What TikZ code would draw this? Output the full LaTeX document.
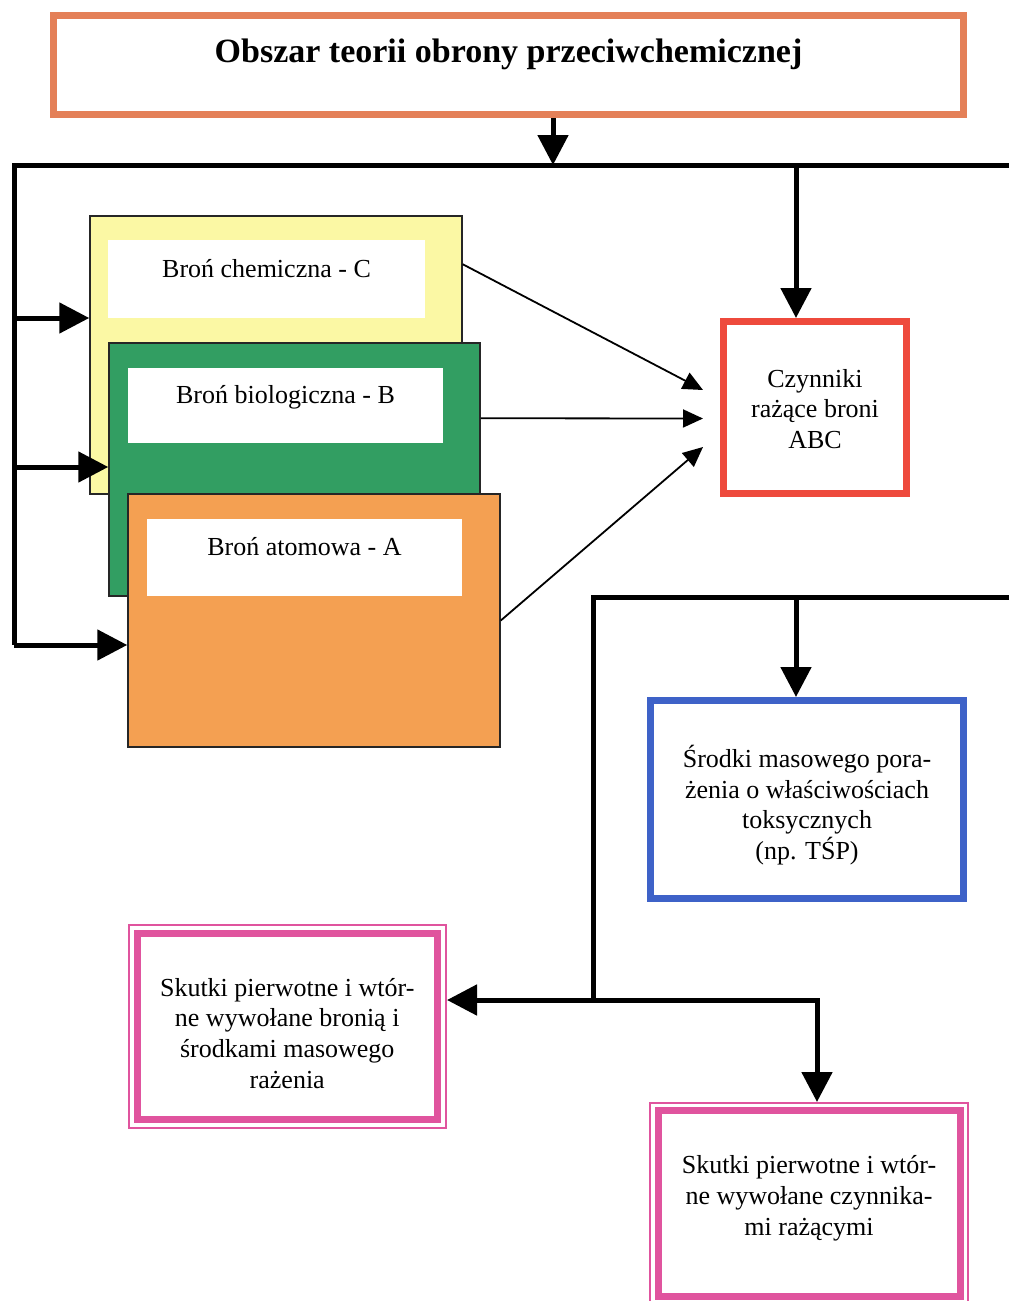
\documentclass[tikz,border=0pt]{standalone}
\usepackage{fontspec}
\setmainfont{Liberation Serif}
\usetikzlibrary{arrows.meta}

\definecolor{titleframe}{RGB}{228,128,88}
\definecolor{chemfill}{RGB}{251,248,164}
\definecolor{biofill}{RGB}{50,158,98}
\definecolor{atomfill}{RGB}{244,160,82}
\definecolor{redframe}{RGB}{238,74,60}
\definecolor{blueframe}{RGB}{62,98,200}
\definecolor{pinkframe}{RGB}{224,84,158}

\begin{document}
\begin{tikzpicture}[x=0.5pt,y=-0.5pt,
  txt/.style={font=\fontsize{13}{15.4}\selectfont, align=center},
  nametext/.style={font=\fontsize{13}{15.4}\selectfont, anchor=base},
  boxtext/.style={txt, anchor=center},
  framebox/.style={draw, rectangle, inner sep=0pt, txt},
  thinframe/.style={draw=pinkframe, line width=1pt, rectangle, inner sep=0pt},
  weapon/.style={draw=black!85, line width=0.75pt, rectangle, inner sep=0pt},
  namebox/.style={fill=white, rectangle, inner sep=0pt},
  bus/.style={line width=2.5pt},
  busarrow/.style={bus, -{Triangle[length=15pt,width=15pt]}},
  feed/.style={line width=0.9pt, -{Triangle[length=10pt,width=9pt]}},
]
\useasboundingbox (0,0) rectangle (1009,1301);

% title
\node[framebox, draw=titleframe, line width=3.5pt, minimum width=455pt, minimum height=49.5pt,
  label={[name=titletext, font=\fontsize{17}{20}\selectfont\bfseries, anchor=base, yshift=5.5pt]center:Obszar teorii obrony przeciwchemicznej}]
  (title) at (508.5,65) {};

% stacked weapon cards
\node[weapon, fill=chemfill, minimum width=186pt, minimum height=139pt] (chem) at (276,355) {};
\node[namebox, minimum width=158.5pt, minimum height=39pt,
  label={[name=chemtext, nametext, yshift=5pt]center:Broń chemiczna - C}] (chemname) at (266.5,279) {};

\node[weapon, fill=biofill, minimum width=185.5pt, minimum height=126.5pt] (bio) at (294.5,469.5) {};
\node[namebox, minimum width=157.5pt, minimum height=37.5pt,
  label={[name=biotext, nametext, yshift=4pt]center:Broń biologiczna - B}] (bioname) at (285.5,405.5) {};

\node[weapon, fill=atomfill, minimum width=186pt, minimum height=126.5pt] (atom) at (314,620.5) {};
\node[namebox, minimum width=157.5pt, minimum height=38.5pt,
  label={[name=atomtext, nametext, yshift=5.25pt]center:Broń atomowa - A}] (atomname) at (304.5,557.5) {};

% result boxes
\node[framebox, draw=redframe, line width=3.5pt, minimum width=91.5pt, minimum height=86pt,
  label={[name=czyntext, boxtext, yshift=-0.75pt]center:Czynniki\\rażące broni\\ABC}]
  (czyn) at (815,407.5) {};

\node[framebox, draw=blueframe, line width=3.5pt, minimum width=156.5pt, minimum height=99pt,
  label={[name=srodkitext, boxtext, yshift=-2.75pt]center:Środki masowego pora-\\żenia o właściwościach\\toksycznych\\(np. TŚP)}]
  (srodki) at (807,799.5) {};

\node[thinframe, minimum width=158.5pt, minimum height=101.3pt] (s1frame) at (287.5,1026.3) {};
\node[framebox, draw=pinkframe, line width=3.5pt, minimum width=150.25pt, minimum height=93.3pt,
  label={[name=s1text, boxtext, yshift=-3.5pt]center:Skutki pierwotne i wtór-\\ne wywołane bronią i\\środkami masowego\\rażenia}]
  (s1) at (287.25,1026.3) {};

\node[thinframe, minimum width=159pt, minimum height=100pt] (s2frame) at (808.7,1203) {};
\node[framebox, draw=pinkframe, line width=3.5pt, minimum width=151pt, minimum height=93pt,
  label={[name=s2text, boxtext, yshift=2.5pt]center:Skutki pierwotne i wtór-\\ne wywołane czynnika-\\mi rażącymi}]
  (s2) at (809,1203) {};

% upper distribution bus
\coordinate (drop) at (553,165);
\coordinate (busL) at (14,165);
\coordinate (busR) at (1009,165);
\coordinate (tapC) at (796,165);
\coordinate (tap1) at (14,318);
\coordinate (tap2) at (14,467);
\coordinate (tap3) at (14,645);

\draw[busarrow] (title.south -| drop) -- (drop);
\draw[bus] (busR) -- (busL) -- (tap3);
\draw[busarrow] (tap1) -- (tap1 -| chem.west);
\draw[busarrow] (tap2) -- (tap2 -| bio.west);
\draw[busarrow] (tap3) -- (tap3 -| atom.west);
\draw[busarrow] (tapC) -- (tapC |- czyn.north);

% weapons feeding the damaging factors
\draw[feed] ([yshift=-24.5pt]chem.north east) -- ([xshift=-8.5pt,yshift=8.75pt]czyn.west);
\draw[feed] ([yshift=-38pt]bio.north east) -- ([xshift=-8.5pt,yshift=-5.5pt]czyn.west);
\draw[feed] (atom.east) -- ([xshift=-8.5pt,yshift=-19.75pt]czyn.west);

% lower distribution bus
\coordinate (bus2R) at (1009,597);
\coordinate (bus2L) at (593,597);
\coordinate (tapD) at (796,597);
\coordinate (split) at (593,1000);
\coordinate (turn) at (817,1000);

\draw[bus] (bus2R) -- (bus2L) -- (split);
\draw[busarrow] (tapD) -- (tapD |- srodki.north);
\draw[busarrow] (split) -- (split -| s1frame.east);
\draw[busarrow] (split) -- (turn) -- (turn |- s2frame.north);
\end{tikzpicture}
\end{document}
